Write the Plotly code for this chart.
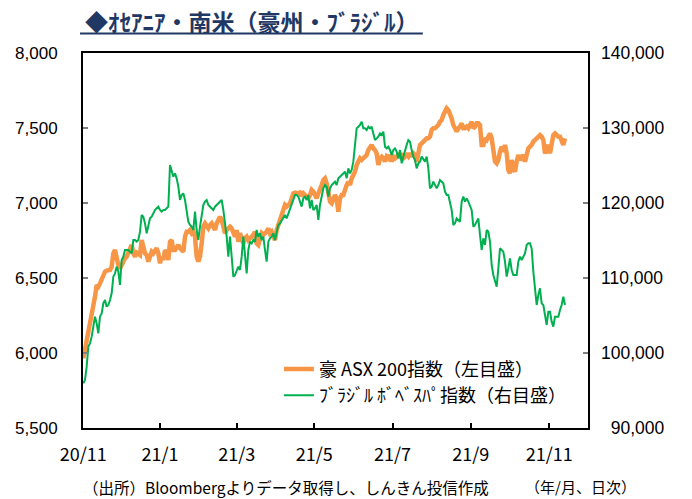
import plotly.graph_objects as go

TITLE = "◆ｵｾｱﾆｱ・南米（豪州・ﾌﾞﾗｼﾞﾙ）"
NAME_ASX = "豪 ASX 200指数（左目盛）"
NAME_BOV = "ﾌﾞﾗｼﾞﾙ ﾎﾞﾍﾞｽﾊﾟ指数（右目盛）"
NOTE_SOURCE = "（出所）Bloombergよりデータ取得し、しんきん投信作成"
NOTE_UNIT = "（年/月、日次）"

# month labels and the trading-day index at which each appears
TICK_LABELS = ["20/11", "21/1", "21/3", "21/5", "21/7", "21/9", "21/11"]
TICK_DAYS = [0, 46, 92, 138.5, 185.5, 232.5, 279.5]

# right-axis tick values and their labels (figure space pads the shorter label)
Y2_TICKS = [90000, 100000, 110000, 120000, 130000, 140000]
Y2_LABELS = ["\u200790,000", "100,000", "110,000", "120,000", "130,000", "140,000"]

# S&P/ASX 200 (left axis), daily
ASX200 = [
    5964, 6020, 6086, 6142, 6186, 6242, 6291, 6375, 6453, 6442,
    6464, 6491, 6513, 6542, 6549, 6549, 6553, 6575, 6664, 6686,
    6620, 6587, 6564, 6587, 6620, 6631, 6642, 6664, 6686, 6720,
    6664, 6642, 6669, 6660, 6653, 6753, 6686, 6664, 6653, 6609,
    6642, 6675, 6664, 6686, 6698, 6664, 6598, 6642, 6620, 6686,
    6664, 6620, 6742, 6753, 6686, 6686, 6698, 6720, 6698, 6686,
    6675, 6775, 6809, 6809, 6820, 6798, 6809, 6775, 6642, 6609,
    6642, 6731, 6842, 6864, 6842, 6831, 6853, 6864, 6842, 6820,
    6864, 6898, 6909, 6887, 6842, 6798, 6820, 6831, 6842, 6831,
    6798, 6776, 6820, 6742, 6798, 6753, 6731, 6764, 6776, 6753,
    6764, 6776, 6787, 6809, 6731, 6720, 6776, 6798, 6787, 6798,
    6809, 6831, 6798, 6809, 6776, 6753, 6820, 6853, 6876, 6909,
    6953, 6987, 6976, 6987, 6998, 7031, 7064, 7069, 7064, 7064,
    7069, 7047, 7064, 7053, 7042, 7031, 7053, 7087, 7076, 7042,
    7031, 7064,
    7087, 7120, 7153, 7164, 7131, 7076, 7009, 6998, 7031, 7053,
    7031, 6942, 7031, 7053, 7053, 7098, 7120, 7142, 7120, 7164,
    7187, 7209, 7253, 7287, 7298, 7287, 7298, 7309, 7320, 7353,
    7376, 7387, 7364, 7353, 7331, 7253, 7298, 7309, 7298, 7276,
    7309, 7298, 7320, 7276, 7309, 7298, 7309, 7320, 7309, 7331,
    7298, 7309, 7320, 7309, 7331, 7309, 7331, 7320, 7276, 7331,
    7387, 7398, 7409, 7420, 7431, 7431, 7442, 7487, 7498, 7498,
    7509, 7520,
    7542, 7553, 7587, 7620, 7631, 7620, 7598, 7564, 7520, 7487,
    7476, 7498, 7509, 7531, 7498, 7498, 7509, 7498, 7520, 7542,
    7498, 7509, 7531, 7531, 7520, 7387, 7387, 7431, 7420, 7442,
    7464, 7431, 7364, 7276, 7264, 7287, 7342, 7376, 7342, 7387,
    7331, 7220, 7198, 7287, 7231, 7209, 7276, 7320, 7287, 7309,
    7320, 7276, 7331, 7364, 7376, 7387, 7409, 7420, 7431, 7442,
    7453, 7442, 7420, 7331, 7353, 7387, 7331, 7409, 7453, 7464,
    7453, 7442, 7442, 7409, 7387, 7431,
]

# Bovespa (right axis), daily
BOVESPA = [
    95956, 96400, 98178, 100844, 101289, 102178, 103511, 104844, 103956, 102622,
    104844, 105289, 106622, 107067, 106178, 106400, 107067, 107956, 110178, 110622,
    111511, 110844, 109067, 112400, 112844, 113733, 113733, 113733, 113511, 113289,
    115067, 115067, 114844, 115067, 116178, 118400, 118178, 117289, 115956, 116844,
    117956, 118178, 118622, 119067, 119289, 119511, 119067, 118844, 119067, 119067,
    119289, 119511, 125067, 124178, 123511, 123956, 123289, 122178, 120400, 121067,
    121289, 120400, 119067, 117511, 117067, 116844, 116400, 118844, 116400, 115067,
    116844, 118622, 119733, 120178, 120400, 119733, 119511, 119289, 119067, 119511,
    119733, 119956, 120178, 120400, 119067, 117289, 115511, 112844, 115511, 112844,
    110178, 110400, 111067, 111511, 111067, 112844, 115511, 112400, 110622, 113733,
    114844, 114622, 115067, 114844, 116400, 115511, 115956, 115067, 115511, 113733,
    112178, 114844, 115289, 115511, 115956, 115067, 115956, 117067, 117289, 117733,
    118178, 118400, 117956, 118622, 119289, 119956, 120400, 121067, 121067, 120844,
    120178, 119511, 120622, 120844, 120400, 121067, 119289, 120400, 119067, 119289,
    119733, 117733,
    119733, 121067, 121956, 122400, 122178, 120844, 121956, 122400, 122622, 122844,
    122400, 123289, 123511, 123733, 123956, 124178, 123289, 124622, 123956, 124400,
    125511, 128178, 129956, 130178, 130400, 130844, 129956, 129956, 129733, 130178,
    129956, 130178, 129289, 128400, 128622, 128844, 129289, 129067, 129511, 127511,
    127289, 127511, 127067, 126400, 127067, 127289, 126844, 125956, 127067, 125289,
    126178, 127067, 127733, 128400, 128178, 127067, 126178, 125733, 124622, 125289,
    125511, 126178, 125733, 125511, 126178, 124622, 121956, 122178, 122844, 122400,
    121956, 122400,
    123067, 122844, 122622, 121511, 121067, 121067, 119956, 119067, 117067, 117289,
    117956, 117733, 117511, 120178, 120844, 120178, 120622, 120178, 119733, 119067,
    116844, 117067, 117511, 117956, 115733, 113733, 115289, 114400, 116400, 116178,
    114844, 111733, 110400, 109511, 108844, 111289, 113956, 113733, 113511, 112178,
    110178, 111289, 112622, 111067, 110400, 110400, 110400, 112178, 112844, 112400,
    112844, 113289, 114400, 114622, 114622, 113956, 110844, 108622, 106400, 107733,
    108622, 106622, 106400, 105067, 103733, 105511, 105511, 104178, 103511, 104844,
    104844, 104844, 105733, 106400, 107511, 106400,
]

DAYS = list(range(len(ASX200)))

CJK = "Noto Sans CJK JP"
NUM = "Liberation Sans"
NAVY = "#1F3864"

fig = go.Figure()
fig.add_trace(go.Scatter(
    x=DAYS, y=ASX200, name=NAME_ASX, mode="lines",
    line=dict(color="#F79646", width=4.5), yaxis="y",
))
fig.add_trace(go.Scatter(
    x=DAYS, y=BOVESPA, name=NAME_BOV, mode="lines",
    line=dict(color="#00B050", width=2), yaxis="y2",
))

fig.update_layout(
    width=692, height=499,
    margin=dict(l=83, r=104, t=53, b=71, autoexpand=False),
    paper_bgcolor="white", plot_bgcolor="white",
    showlegend=True,
    legend=dict(
        x=0.388, y=0.206, xanchor="left", yanchor="top",
        bgcolor="rgba(0,0,0,0)", font=dict(family=CJK, size=18, color="black"),
        tracegroupgap=0, itemwidth=30,
    ),
    xaxis=dict(
        range=[-0.2, 302.8], tickmode="array", tickvals=TICK_DAYS, ticktext=TICK_LABELS,
        ticks="inside", ticklen=5, tickwidth=1.5, tickcolor="black",
        showline=True, linecolor="black", linewidth=2, mirror=True,
        showgrid=False, zeroline=False, automargin=False,
        tickfont=dict(family=CJK, size=18, color="black"), ticklabelstandoff=9,
    ),
    yaxis=dict(
        range=[5500, 8000], tick0=5500, dtick=500, tickformat=",",
        ticks="inside", ticklen=5, tickwidth=1.5, tickcolor="#808080",
        showline=True, linecolor="black", linewidth=2, mirror=True,
        showgrid=False, zeroline=False, automargin=False,
        tickfont=dict(family=NUM, size=17, color="black"), ticklabelstandoff=20,
    ),
    yaxis2=dict(
        overlaying="y", side="right",
        range=[90000, 140000], tickmode="array", tickvals=Y2_TICKS, ticktext=Y2_LABELS,
        ticks="inside", ticklen=5, tickwidth=1.5, tickcolor="#808080",
        showline=False, showgrid=False, zeroline=False, automargin=False,
        tickfont=dict(family=NUM, size=17.5, color="black"), ticklabelstandoff=12,
    ),
)

fig.add_annotation(
    text=TITLE, xref="paper", yref="paper", x=0.0, y=1.0853,
    xanchor="left", yanchor="middle", showarrow=False,
    font=dict(family=CJK, size=23, color=NAVY, weight="bold"),
)
fig.add_shape(
    type="line", xref="paper", yref="paper", x0=-0.0059, x1=0.673, y0=1.052, y1=1.052,
    line=dict(color=NAVY, width=2),
)
fig.add_annotation(
    text=NOTE_SOURCE, xref="paper", yref="paper", x=-0.004, y=-0.157,
    xanchor="left", yanchor="middle", showarrow=False,
    font=dict(family=CJK, size=15.5, color="black"),
)
fig.add_annotation(
    text=NOTE_UNIT, xref="paper", yref="paper", x=1.099, y=-0.157,
    xanchor="right", yanchor="middle", showarrow=False,
    font=dict(family=CJK, size=15, color="black"),
)

# remove the browser's default 8px page margin so the figure fills the window
fig.write_html(
    "out.html",
    config={"displayModeBar": False},
    post_script="document.body.style.margin='0';",
)
